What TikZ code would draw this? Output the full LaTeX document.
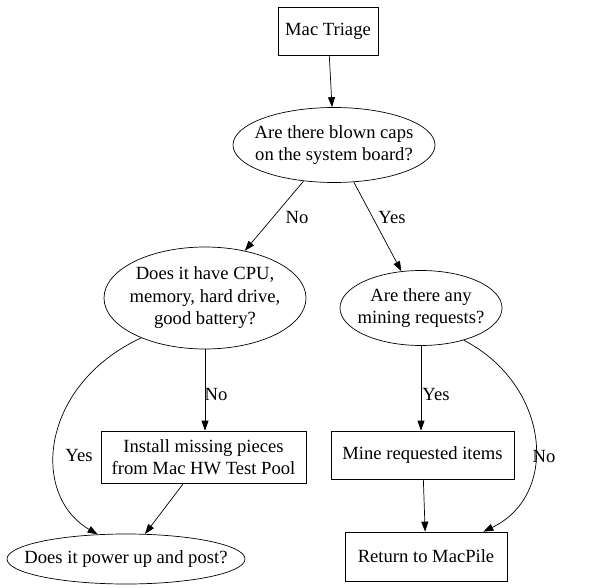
\documentclass[tikz,border=0pt]{standalone}
\usepackage{fontspec}
\setmainfont{Liberation Serif}
\usetikzlibrary{shapes.geometric,arrows.meta}

\begin{document}
\begin{tikzpicture}[
    x=1pt, y=-1pt,
    font=\fontsize{18.6}{22.5}\selectfont,
    >={Triangle[length=10pt,width=7pt]},
    stepbox/.style={
        draw=black,
        align=center,
        inner sep=0pt,
        line width=0.7pt
    },
    question/.style={
        ellipse,
        draw=black,
        align=center,
        inner sep=-40pt,
        line width=0.7pt
    },
    edgelabel/.style={inner sep=1pt},
    flow/.style={->, line width=0.7pt, draw=black}
]
    \useasboundingbox (0,0) rectangle (594,588);

    % nodes
    \node[stepbox, minimum width=100pt, minimum height=48pt] (triage) at (328,31) {Mac Triage};
    \node[question, minimum width=202pt, minimum height=75pt] (caps) at (334,145)
        {Are there blown caps\\on the system board?};
    \node[question, minimum width=202pt, minimum height=102pt] (parts) at (205,298)
        {Does it have CPU,\\memory, hard drive,\\good battery?};
    \node[question, minimum width=162pt, minimum height=75pt] (mining) at (421,308)
        {Are there any\\mining requests?};
    \node[stepbox, minimum width=205pt, minimum height=52pt] (install) at (203.5,457)
        {Install missing pieces\\from Mac HW Test Pool};
    \node[stepbox, minimum width=183pt, minimum height=48pt] (mine) at (422.5,455)
        {Mine requested items};
    \node[question, minimum width=238pt, minimum height=50pt] (power) at (126,559)
        {Does it power up and post?};
    \node[stepbox, minimum width=162pt, minimum height=49pt] (return) at (426,556.5)
        {Return to MacPile};

    % connectors
    \draw[flow] (triage) -- (caps);
    \draw[flow] (caps) -- (parts);
    \draw[flow] (caps) -- (mining);
    \draw[flow] (parts.south) -- (parts.south |- install.north);
    \draw[flow] (parts.-148) .. controls (40,385) and (30,495) .. (power.139);
    \draw[flow] (install) -- (power);
    \draw[flow] (mining.south) -- (mining.south |- mine.north);
    \draw[flow] (mining.-37) .. controls (550,385) and (560,495) .. ([xshift=-24pt]return.north east);
    \draw[flow] (mine) -- (return);

    % labels
    \node[edgelabel] (capsno) at (297,218) {No};
    \node[edgelabel] (capsyes) at (392,218) {Yes};
    \node[edgelabel] (partsno) at (216,394) {No};
    \node[edgelabel] (partsyes) at (79,455) {Yes};
    \node[edgelabel] (miningyes) at (436,394) {Yes};
    \node[edgelabel] (miningno) at (544,456) {No};

\end{tikzpicture}
\end{document}
